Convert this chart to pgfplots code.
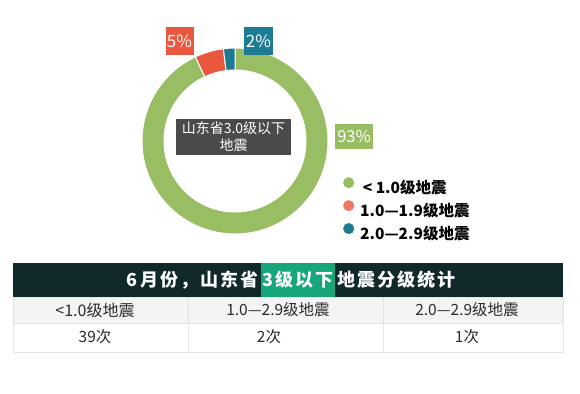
\documentclass[border=0pt]{standalone}
\usepackage{pgfplots}
\pgfplotsset{compat=1.18}
\usepackage{pgfplotstable}
\usepackage{fontspec}
\setmainfont{Noto Sans CJK SC}
\definecolor{cgreen}{HTML}{98BD62}
\definecolor{cred}{HTML}{E9573E}
\definecolor{cteal}{HTML}{1D7C93}
\definecolor{cbox}{HTML}{4A4A48}
\definecolor{chead}{HTML}{11292A}
\definecolor{chl}{HTML}{17A57B}
\definecolor{crow}{HTML}{F4F4F2}
\definecolor{cline}{HTML}{E4E4E2}
\definecolor{ctext}{HTML}{2A2A2A}
\pgfplotstableread{
label value count
a 93 39
b 5 2
c 2 1
}\piedata
\newcommand{\sector}[3]{%
\fill[#1, draw=white, line width=1pt] ([shift={(#2:93pt)}]C) arc[start angle=#2, end angle=#3, radius=93pt] -- ([shift={(#3:71pt)}]C) arc[start angle=#3, end angle=#2, radius=71pt] -- cycle;}
\begin{document}
\begin{tikzpicture}
\pgfplotstablegetelem{0}{value}\of\piedata \pgfmathsetmacro\aA{90-3.6*\pgfplotsretval}
\pgfplotstablegetelem{1}{value}\of\piedata \pgfmathsetmacro\aB{\aA-3.6*\pgfplotsretval}
\pgfplotstablegetelem{2}{value}\of\piedata \pgfmathsetmacro\aC{\aB-3.6*\pgfplotsretval}
\begin{axis}[at={(0,0)}, anchor=south west, scale only axis, width=580pt, height=393pt,
  xmin=0, xmax=580, ymin=0, ymax=393, y dir=reverse, hide axis, clip=false,
  legend style={at={(axis cs:343,177)}, anchor=north west, draw=none, fill=none,
    font=\bfseries\fontsize{15.5}{18}\selectfont, row sep=3pt, inner sep=0pt,
    /tikz/every odd column/.style={column sep=4pt}},
  legend cell align=left,
  legend image code/.code={\fill[#1] (0pt,5pt) circle (5.3pt);}]
\fill[white] (axis cs:0,0) rectangle (axis cs:580,393);
\coordinate (C) at (axis cs:235,141);
\sector{cgreen}{90}{\aA}
\sector{cred}{\aA}{\aB}
\sector{cteal}{\aB}{\aC}
% pie labels
\node[fill=cred, text=white, minimum width=28pt, minimum height=28pt, inner sep=0pt, font=\fontsize{17}{18}\selectfont] at (axis cs:179.5,41.5) {5\%};
\node[fill=cteal, text=white, minimum width=29pt, minimum height=28pt, inner sep=0pt, font=\fontsize{17}{18}\selectfont] at (axis cs:258.5,41.5) {2\%};
\node[fill=cgreen, text=white, minimum width=38pt, minimum height=25pt, inner sep=0pt, font=\fontsize{16.5}{18}\selectfont] at (axis cs:354,136.5) {93\%};
% center box
\fill[cbox] (axis cs:176,119) rectangle (axis cs:291,155);
\node[text=white, align=center, font=\fontsize{14}{17}\selectfont, inner sep=0pt] at (axis cs:233.5,137) {山东省3.0级以下\\地震};
% legend
\addlegendimage{cgreen}
\addlegendentry{\,< 1.0级地震}
\addlegendimage{cred!80}
\addlegendentry{1.0—1.9级地震}
\addlegendimage{cteal}
\addlegendentry{2.0—2.9级地震}
% table
\fill[chead] (axis cs:13,263) rectangle (axis cs:563,297);
\fill[chl] (axis cs:261,263) rectangle (axis cs:335,297);
\fill[crow] (axis cs:13,297) rectangle (axis cs:563,323);
\draw[cline, line width=0.8pt] (axis cs:13,297) rectangle (axis cs:563,352);
\draw[cline, line width=0.8pt] (axis cs:13,323) -- (axis cs:563,323);
\draw[cline, line width=0.8pt] (axis cs:188,297) -- (axis cs:188,352);
\draw[cline, line width=0.8pt] (axis cs:383,297) -- (axis cs:383,352);
\node[anchor=east, text=white, inner sep=0pt, font=\bfseries\fontsize{18}{20}\selectfont\addfontfeatures{LetterSpace=12}] at (axis cs:259,280) {6月份，山东省};
\node[text=white, inner sep=0pt, font=\bfseries\fontsize{18}{20}\selectfont\addfontfeatures{LetterSpace=12}] at (axis cs:298,280) {3级以下};
\node[anchor=west, text=white, inner sep=0pt, font=\bfseries\fontsize{18}{20}\selectfont\addfontfeatures{LetterSpace=12}] at (axis cs:337,280) {地震分级统计};
\node[text=ctext, font=\fontsize{16}{17}\selectfont] at (axis cs:95,310) {<1.0级地震};
\node[text=ctext, font=\fontsize{15.5}{17}\selectfont] at (axis cs:278,310) {1.0—2.9级地震};
\node[text=ctext, font=\fontsize{15.5}{17}\selectfont] at (axis cs:467,310) {2.0—2.9级地震};
\node[text=ctext, font=\fontsize{15.5}{17}\selectfont] at (axis cs:95,337) {39次};
\node[text=ctext, font=\fontsize{15.5}{17}\selectfont] at (axis cs:269,337) {2次};
\node[text=ctext, font=\fontsize{15.5}{17}\selectfont] at (axis cs:467,337) {1次};
\end{axis}
\end{tikzpicture}
\end{document}
